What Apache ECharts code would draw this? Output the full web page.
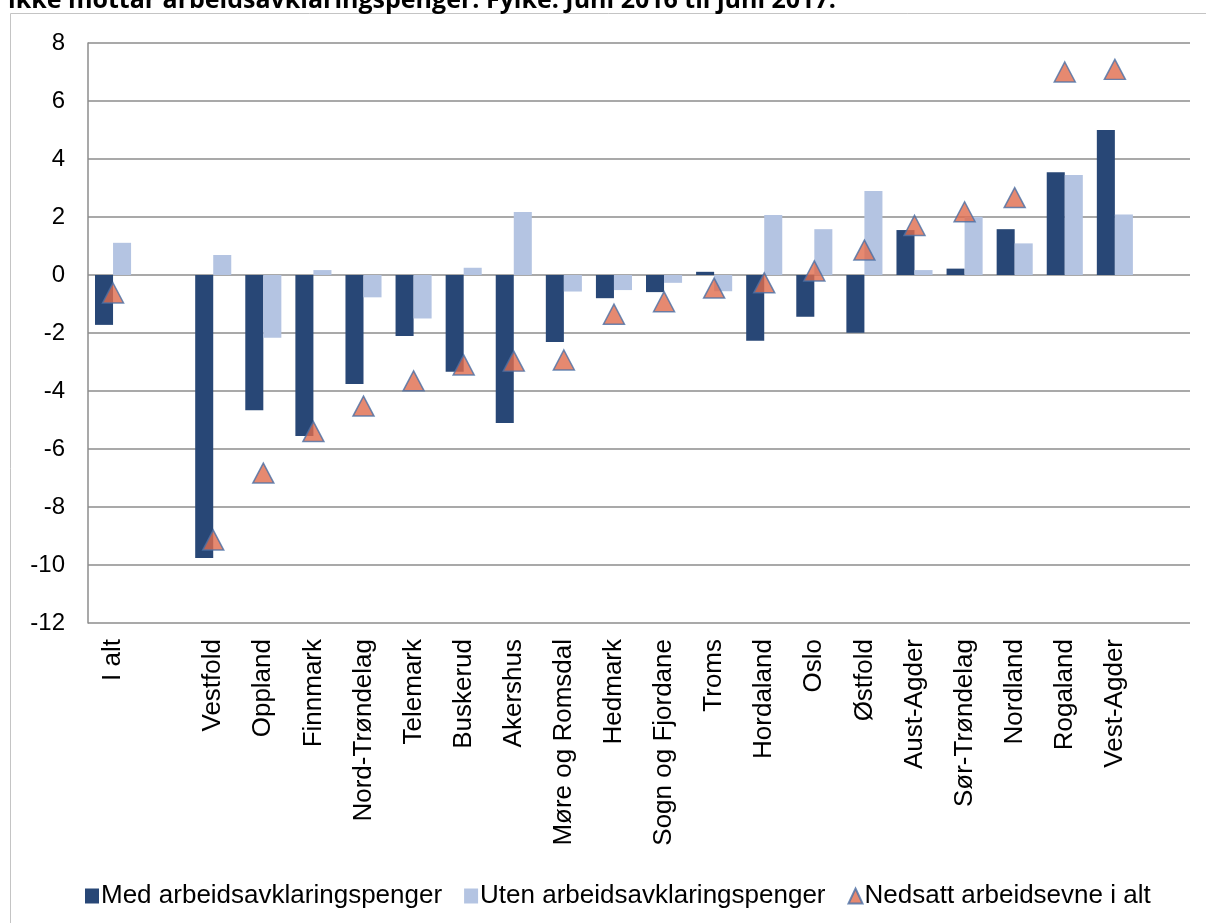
<!DOCTYPE html>
<html><head><meta charset="utf-8">
<script src="https://cdn.jsdelivr.net/npm/echarts@6/dist/echarts.min.js"></script>
<style>html,body{margin:0;padding:0;background:#fff}#c{width:1206px;height:923px}</style>
</head><body><div id="c"></div>
<script>
const categories = ['I alt','','Vestfold','Oppland','Finnmark','Nord-Trøndelag','Telemark','Buskerud','Akershus','Møre og Romsdal','Hedmark','Sogn og Fjordane','Troms','Hordaland','Oslo','Østfold','Aust-Agder','Sør-Trøndelag','Nordland','Rogaland','Vest-Agder',''];
const medAAP = [-1.72,null,-9.76,-4.66,-5.55,-3.76,-2.1,-3.34,-5.1,-2.31,-0.8,-0.59,0.11,-2.27,-1.44,-1.99,1.55,0.22,1.58,3.54,5.0,null];
const utenAAP = [1.11,null,0.69,-2.16,0.17,-0.77,-1.5,0.25,2.17,-0.57,-0.52,-0.27,-0.56,2.07,1.58,2.9,0.17,2.01,1.09,3.45,2.09,null];
const nedsatt = [-0.62,null,-9.14,-6.83,-5.4,-4.52,-3.65,-3.1,-2.97,-2.93,-1.35,-0.92,-0.45,-0.27,0.14,0.86,1.71,2.18,2.67,7.0,7.09,null];
const legendNames = ['Med arbeidsavklaringspenger','Uten arbeidsavklaringspenger','Nedsatt arbeidsevne i alt'];
const titleText = 'ikke mottar arbeidsavklaringspenger. Fylke. Juni 2016 til juni 2017.';

const chart = echarts.init(document.getElementById('c'));
const font = 'Liberation Sans, Arial, sans-serif';
chart.setOption({
  animation:false,
  backgroundColor:'#fff',
  graphic:[
    {type:'rect',shape:{x:10.5,y:13.5,width:1210,height:920},style:{fill:'none',stroke:'#c4c4c4',lineWidth:1}},
    {type:'text',style:{x:8,y:13,text:titleText,font:'bold 25px "Open Sans", sans-serif',fill:'#000',verticalAlign:'bottom'}}
  ],
  legend:{
    data:[{name:legendNames[0],icon:'rect'},{name:legendNames[1],icon:'rect'},{name:legendNames[2],icon:'triangle'}],
    left:80, top:878, itemWidth:14, itemHeight:15, itemGap:22,
    textStyle:{fontFamily:font,fontSize:26,color:'#000',padding:[0,0,0,-3]}
  },
  grid:{left:88,right:16,top:43,bottom:300,containLabel:false},
  xAxis:{type:'category',data:categories,
    axisLine:{show:false},axisTick:{show:false},
    axisLabel:{rotate:90,interval:0,fontFamily:font,fontSize:26,color:'#000',margin:16}
  },
  yAxis:{type:'value',min:-12,max:8,interval:2,
    axisLine:{show:true,lineStyle:{color:'#8c8c8c',width:1.5}},
    axisTick:{show:false},
    splitLine:{lineStyle:{color:'#8c8c8c',width:1.5}},
    axisLabel:{fontFamily:font,fontSize:24,color:'#000',margin:23}
  },
  series:[
    {name:legendNames[0],type:'bar',data:medAAP,barGap:'0%',barCategoryGap:'28%',itemStyle:{color:'#284776'}},
    {name:legendNames[1],type:'bar',data:utenAAP,itemStyle:{color:'#b4c4e2'}},
    {name:legendNames[2],type:'scatter',data:nedsatt,symbol:'triangle',symbolSize:[21,20],z:5,
      itemStyle:{color:'#e06c4c',borderColor:'#4a6fa5',borderWidth:1.5}}
  ]
});
</script></body></html>
